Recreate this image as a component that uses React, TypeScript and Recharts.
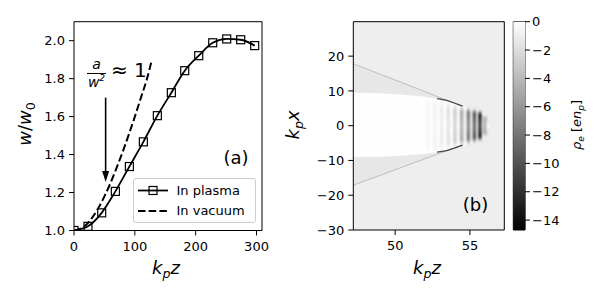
import React from 'react'
import {
  ComposedChart, Line, Area, XAxis, YAxis, ReferenceArea, ReferenceLine, CartesianGrid,
  BarChart, Bar,
} from 'recharts'

// panel (a): beam width along propagation
const zPlasma = [0, 23, 45.5, 68, 91, 114, 137, 160, 182, 205, 228, 251, 274, 297]
const wPlasma = [1.0, 1.022, 1.093, 1.206, 1.337, 1.467, 1.605, 1.726, 1.842, 1.921, 1.989, 2.009, 2.005, 1.974]
const zVacuum = [0, 10, 20, 30, 40, 50, 60, 70, 80, 90, 100, 110, 120, 128]
const wVacuum = [1.0, 1.008, 1.03, 1.068, 1.118, 1.18, 1.25, 1.33, 1.414, 1.505, 1.6, 1.7, 1.8, 1.9]
const aXTicks = [0, 100, 200, 300]
const aYTicks = [1.0, 1.2, 1.4, 1.6, 1.8, 2.0]

// panel (b): electron density map, read as shapes
const hz = [47.2, 49, 50.5, 52, 53.45, 54.5, 55.3, 55.9, 56.3]
const hBubbleTop = [9.45, 9.3, 8.9, 8.35, 7.3, 5.6, 5.0, 4.0, 0]
const hBubbleBot = [-9.0, -8.9, -8.6, -8.1, -7.2, -5.6, -5.0, -4.0, 0]
const hOuterTop = [17.8, 14.8, 12.3, 9.8, 7.3, 5.6, null, null, null]
const hOuterBot = [-17.1, -14.3, -11.9, -9.5, -7.2, -5.6, null, null, null]
const edgeZ = [52.8, 53.45, 54.0, 54.5]
const edgeTop = [7.75, 7.3, 6.45, 5.6]
const edgeBot = [-7.6, -7.2, -6.4, -5.6]
const stripeZ = [52.2, 52.65, 53.1, 53.55, 54.0, 54.45, 54.9, 55.3, 55.67, 56.0]
const stripeHalf = [8.0, 7.7, 7.2, 6.8, 6.2, 5.7, 5.3, 4.9, 4.4, 3.0]
const stripeShade = [0.03, 0.05, 0.08, 0.12, 0.2, 0.35, 0.55, 0.7, 0.92, 0.35]
const bXTicks = [50, 55]
const bYTicks = [-30, -20, -10, 0, 10, 20]

// colorbar
const cbarTicks = [0, -2, -4, -6, -8, -10, -12, -14]
const cbarMin = -14.7

const FONT = '"DejaVu Sans", sans-serif'
const TICK = { fill: '#000', fontSize: 13 }
const minus = (v: number) => (v < 0 ? '\u2212' + Math.abs(v) : String(v))

const plasmaData = zPlasma.map((z, i) => ({ z, w: wPlasma[i] }))
const vacuumData = zVacuum.map((z, i) => ({ z, w: wVacuum[i] }))
const mapData = hz.map((z, i) => ({
  z,
  top: hOuterTop[i] == null ? null : [hBubbleTop[i], hOuterTop[i]],
  bubble: [hBubbleBot[i], hBubbleTop[i]],
  bot: hOuterBot[i] == null ? null : [hOuterBot[i], hBubbleBot[i]],
  outerTop: hOuterTop[i],
  outerBot: hOuterBot[i],
}))
const edgeData = edgeZ.map((z, i) => ({ z, t: edgeTop[i], b: edgeBot[i] }))

function Sub({ children }: { children: React.ReactNode }) {
  return <span style={{ fontSize: '0.7em', position: 'relative', top: '0.3em' }}>{children}</span>
}

function Txt({ x, y, size, rot, children }: { x: number; y: number; size: number; rot?: boolean; children: React.ReactNode }) {
  return (
    <div style={{
      position: 'absolute', left: x, top: y, fontSize: size, lineHeight: `${size}px`, whiteSpace: 'nowrap',
      transform: `translate(-50%, -50%)${rot ? ' rotate(-90deg)' : ''}`,
    }}>{children}</div>
  )
}

const square = (p: any) => (
  <rect key={p.index} x={p.cx - 4} y={p.cy - 4} width={8} height={8} fill="none" stroke="#000" strokeWidth={1.2} />
)

const arrow = (p: any) => {
  const { x1, y1, x2, y2 } = p
  return (
    <g>
      <line x1={x1} y1={y1} x2={x2} y2={y2 - 8} stroke="#000" strokeWidth={1.6} />
      <polygon points={`${x2},${y2} ${x2 - 3.5},${y2 - 11} ${x2 + 3.5},${y2 - 11}`} fill="#000" />
    </g>
  )
}

export default function App() {
  return (
    <div style={{ position: 'absolute', left: 0, top: 0, width: 600, height: 300, background: '#fff', fontFamily: FONT, color: '#000' }}>
      <svg width={0} height={0} style={{ position: 'absolute' }}>
        <defs>
          <linearGradient id="cbarGrad" x1="0" y1="1" x2="0" y2="0">
            <stop offset="0" stopColor="#000" />
            <stop offset="1" stopColor="#fff" />
          </linearGradient>
          <linearGradient id="stripeGrad" x1="0" y1="0" x2="0" y2="1">
            <stop offset="0" stopColor="#000" stopOpacity={0.2} />
            <stop offset="0.15" stopColor="#000" stopOpacity={1} />
            <stop offset="0.5" stopColor="#000" stopOpacity={0.8} />
            <stop offset="0.85" stopColor="#000" stopOpacity={1} />
            <stop offset="1" stopColor="#000" stopOpacity={0.2} />
          </linearGradient>
          <filter id="stripeBlur" x="-50%" y="-20%" width="200%" height="140%">
            <feGaussianBlur stdDeviation="1.3 0.8" />
          </filter>
        </defs>
      </svg>
      <style>{`.stripe { filter: url(#stripeBlur); }`}</style>

      {/* (a) beam width */}
      <div style={{ position: 'absolute', left: 0, top: 0 }}>
        <ComposedChart width={270} height={300} margin={{ top: 21.7, right: 8, left: 0, bottom: 39.5 }}>
          <XAxis dataKey="z" type="number" domain={[0, 309]} ticks={aXTicks} allowDataOverflow
            axisLine={false} tickSize={5} tickMargin={6} tick={TICK} tickLine={{ stroke: '#000' }} height={30} />
          <YAxis type="number" domain={[1.0, 2.1]} ticks={aYTicks} allowDataOverflow width={74}
            axisLine={false} tickSize={5} tickMargin={4} tick={TICK} tickLine={{ stroke: '#000' }}
            tickFormatter={(v: number) => v.toFixed(1)} />
          <Line data={vacuumData} dataKey="w" type="monotone" stroke="#000" strokeWidth={2}
            strokeDasharray="7.5 3.2" dot={false} activeDot={false} isAnimationActive={false} />
          <Line data={plasmaData} dataKey="w" type="monotone" stroke="#000" strokeWidth={1.8}
            dot={square} activeDot={false} isAnimationActive={false} />
          <ReferenceLine segment={[{ x: 52, y: 1.70 }, { x: 52, y: 1.255 }]} shape={arrow} ifOverflow="visible" />
          <ReferenceArea x1={0} x2={309} y1={1.0} y2={2.1} fill="none" stroke="#000" strokeWidth={1} ifOverflow="visible" />
        </ComposedChart>
      </div>

      {/* annotation a / w^2 ≈ 1 */}
      <div style={{ position: 'absolute', left: 87, top: 57, width: 19, display: 'flex', flexDirection: 'column', alignItems: 'center', fontStyle: 'italic', fontSize: 14, lineHeight: '14px' }}>
        <span>a</span>
        <span style={{ width: 19, height: 1, background: '#000', margin: '1.5px 0' }} />
        <span>w<span style={{ fontSize: 9, position: 'relative', top: -6 }}>2</span></span>
      </div>
      <div style={{ position: 'absolute', left: 111, top: 60, fontSize: 20, lineHeight: '20px', whiteSpace: 'nowrap' }}>≈ 1</div>

      {/* legend */}
      <div style={{ position: 'absolute', left: 132.5, top: 177.5, width: 121, height: 43, border: '1px solid #cccccc', borderRadius: 3, background: 'rgba(255,255,255,0.8)', fontSize: 13 }}>
        <svg width={32} height={43} style={{ position: 'absolute', left: 3, top: 0 }}>
          <line x1={1} y1={11.5} x2={31} y2={11.5} stroke="#000" strokeWidth={1.8} />
          <rect x={12} y={7.5} width={8} height={8} fill="none" stroke="#000" strokeWidth={1.2} />
          <line x1={1} y1={32} x2={31} y2={32} stroke="#000" strokeWidth={2} strokeDasharray="7.5 3.2" />
        </svg>
        <div style={{ position: 'absolute', left: 43, top: 4, lineHeight: '15px', whiteSpace: 'nowrap' }}>In plasma</div>
        <div style={{ position: 'absolute', left: 43, top: 24.5, lineHeight: '15px', whiteSpace: 'nowrap' }}>In vacuum</div>
      </div>

      <Txt x={236} y={157.5} size={18}>(a)</Txt>
      <Txt x={166} y={269} size={18}><i>k<Sub>p</Sub>z</i></Txt>
      <Txt x={26} y={124} size={18} rot><i>w</i>/<i>w</i><Sub>0</Sub></Txt>

      {/* (b) density map */}
      <div style={{ position: 'absolute', left: 280, top: 0 }}>
        <ComposedChart width={230} height={300} data={mapData} margin={{ top: 21.7, right: 5.7, left: 0, bottom: 40 }}>
          <CartesianGrid horizontal={false} vertical={false} fill="#eeeeee" />
          <XAxis dataKey="z" type="number" domain={[47.2, 57.3]} ticks={bXTicks} allowDataOverflow
            axisLine={false} tickSize={5} tickMargin={6} tick={TICK} tickLine={{ stroke: '#000' }} height={30} />
          <YAxis type="number" domain={[-30, 29.9]} ticks={bYTicks} allowDataOverflow width={73.3}
            axisLine={false} tickSize={5} tickMargin={4} tick={TICK} tickLine={{ stroke: '#000' }}
            tickFormatter={minus} />
          <Area dataKey="top" type="linear" stroke="none" fill="#e7e7e7" fillOpacity={1} isAnimationActive={false} activeDot={false} />
          <Area dataKey="bot" type="linear" stroke="none" fill="#e7e7e7" fillOpacity={1} isAnimationActive={false} activeDot={false} />
          <Area dataKey="bubble" type="linear" stroke="none" fill="#fefefe" fillOpacity={1} isAnimationActive={false} activeDot={false} />
          {stripeZ.map((z, i) => (
            <ReferenceArea key={i} className="stripe" x1={z - 0.12} x2={z + 0.12} y1={-stripeHalf[i]} y2={stripeHalf[i]}
              fill="url(#stripeGrad)" fillOpacity={stripeShade[i]} stroke="none" zIndex={150} />
          ))}
          <Line dataKey="outerTop" type="linear" stroke="#a0a0a0" strokeWidth={1} strokeOpacity={0.6} dot={false} activeDot={false} isAnimationActive={false} />
          <Line dataKey="outerBot" type="linear" stroke="#a0a0a0" strokeWidth={1} strokeOpacity={0.6} dot={false} activeDot={false} isAnimationActive={false} />
          <Line data={edgeData} dataKey="t" type="linear" stroke="#222" strokeWidth={1.3} strokeOpacity={0.8} dot={false} activeDot={false} isAnimationActive={false} />
          <Line data={edgeData} dataKey="b" type="linear" stroke="#222" strokeWidth={1.3} strokeOpacity={0.8} dot={false} activeDot={false} isAnimationActive={false} />
          <ReferenceArea x1={47.2} x2={57.3} y1={-30} y2={29.9} fill="none" stroke="#000" strokeWidth={1} ifOverflow="visible" zIndex={1500} />
        </ComposedChart>
      </div>

      <Txt x={475.5} y={204.5} size={18}>(b)</Txt>
      <Txt x={427} y={269} size={18}><i>k<Sub>p</Sub>z</i></Txt>
      <Txt x={294} y={125} size={18} rot><i>k<Sub>p</Sub>x</i></Txt>

      {/* colorbar */}
      <div style={{ position: 'absolute', left: 505, top: 0 }}>
        <BarChart width={60} height={300} data={[{ n: 'c', v: [cbarMin, 0] }]} barCategoryGap={0}
          margin={{ top: 21.7, right: 0, left: 8.3, bottom: 70 }}>
          <XAxis dataKey="n" hide />
          <YAxis orientation="right" type="number" domain={[cbarMin, 0]} ticks={cbarTicks} width={40}
            axisLine={false} tickSize={5} tickMargin={2} tick={TICK} tickLine={{ stroke: '#000' }}
            tickFormatter={minus} />
          <Bar dataKey="v" fill="url(#cbarGrad)" isAnimationActive={false} />
          <ReferenceArea y1={cbarMin} y2={0} fill="none" stroke="#000" strokeWidth={1} ifOverflow="visible" />
        </BarChart>
      </div>
      <Txt x={577} y={125} size={13} rot><i>ρ<Sub>e</Sub></i> [<i>en<Sub>p</Sub></i>]</Txt>
    </div>
  )
}
